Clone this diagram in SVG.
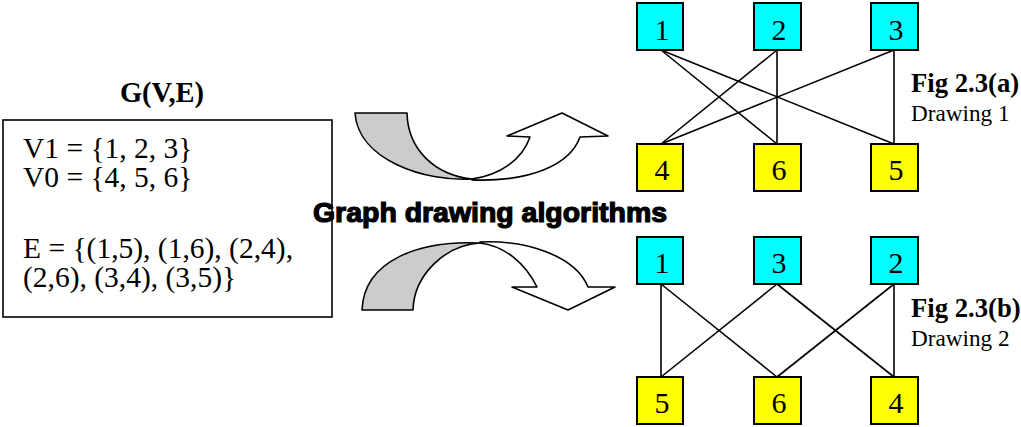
<svg xmlns="http://www.w3.org/2000/svg" width="1021" height="427" viewBox="0 0 1021 427">
<style>
.serif{font-family:"Liberation Serif","Times New Roman",serif;fill:#000}
.lbl{font-size:30px;text-anchor:middle}
.v1 rect{fill:#00FFFF;stroke:#000;stroke-width:2}
.v0 rect{fill:#FFFF00;stroke:#000;stroke-width:2}
.edge{stroke:#000;stroke-width:1.6;fill:none}
.arr{stroke:#000;stroke-width:1.6;stroke-linejoin:round}
</style>
<rect width="1021" height="427" fill="#fff"/>

<g id="graph-def">
<text class="serif" x="162" y="102" font-size="28.5" font-weight="bold" text-anchor="middle">G(V,E)</text>
<rect x="3" y="120" width="329" height="197" fill="#fff" stroke="#000" stroke-width="1.6"/>
<text class="serif" x="23" y="158" font-size="29.5">V1 = {1, 2, 3}</text>
<text class="serif" x="23" y="187" font-size="29.5">V0 = {4, 5, 6}</text>
<text class="serif" x="23" y="258" font-size="29.5">E = {(1,5), (1,6), (2,4),</text>
<text class="serif" x="23" y="287" font-size="29.5">(2,6), (3,4), (3,5)}</text>
</g>

<g id="arrow-top">
<path class="arr" fill="#CCCCCC" d="M355,113 L407,113 C408,150 435,175 472,179 C425,182 358,160 355,113 Z"/>
<path class="arr" fill="#fff" d="M472,180 C530,182 570,165 580,137 L608,136 L562,113 L507,136 L530,137 C522,160 500,175 472,179 Z"/>
</g>
<g id="arrow-bottom">
<path class="arr" fill="#CCCCCC" d="M362,310 L413,310 C414,275 445,245 480,243 C420,240 364,260 362,310 Z"/>
<path class="arr" fill="#fff" d="M480,242 C525,240 575,255 588,287 L615,287 L568,310 L512,287 L537,287 C525,263 505,246 480,243 Z"/>
</g>

<g id="algo-label">
<text x="313" y="222" font-family="'Liberation Sans',Arial,sans-serif" font-size="27" font-weight="bold" stroke="#000" stroke-width="1.2" textLength="354" lengthAdjust="spacingAndGlyphs">Graph drawing algorithms</text>
</g>

<g id="connectors">
<line class="edge" x1="661" y1="50" x2="777" y2="144"/>
<line class="edge" x1="661" y1="50" x2="894" y2="144"/>
<line class="edge" x1="777" y1="50" x2="661" y2="144"/>
<line class="edge" x1="777" y1="50" x2="777" y2="144"/>
<line class="edge" x1="894" y1="50" x2="661" y2="144"/>
<line class="edge" x1="894" y1="50" x2="894" y2="144"/>

<line class="edge" x1="661" y1="284" x2="661" y2="377"/>
<line class="edge" x1="661" y1="284" x2="777" y2="377"/>
<line class="edge" x1="777" y1="284" x2="661" y2="377"/>
<line class="edge" x1="777" y1="284" x2="894" y2="377"/>
<line class="edge" x1="894" y1="284" x2="777" y2="377"/>
<line class="edge" x1="894" y1="284" x2="894" y2="377"/>
</g>

<g id="a-node1" class="v1"><rect x="637" y="3" width="46" height="47"/><text class="serif lbl" x="662" y="40">1</text></g>
<g id="a-node2" class="v1"><rect x="754" y="3" width="47" height="47"/><text class="serif lbl" x="779" y="40">2</text></g>
<g id="a-node3" class="v1"><rect x="871" y="3" width="47" height="47"/><text class="serif lbl" x="896" y="40">3</text></g>
<g id="a-node4" class="v0"><rect x="637" y="144" width="46" height="47"/><text class="serif lbl" x="662" y="180">4</text></g>
<g id="a-node6" class="v0"><rect x="754" y="144" width="47" height="47"/><text class="serif lbl" x="779" y="180">6</text></g>
<g id="a-node5" class="v0"><rect x="871" y="144" width="47" height="47"/><text class="serif lbl" x="896" y="180">5</text></g>

<g id="b-node1" class="v1"><rect x="637" y="237" width="46" height="47"/><text class="serif lbl" x="662" y="273">1</text></g>
<g id="b-node3" class="v1"><rect x="754" y="237" width="47" height="47"/><text class="serif lbl" x="779" y="273">3</text></g>
<g id="b-node2" class="v1"><rect x="871" y="237" width="47" height="47"/><text class="serif lbl" x="896" y="273">2</text></g>
<g id="b-node5" class="v0"><rect x="637" y="377" width="46" height="47"/><text class="serif lbl" x="662" y="413">5</text></g>
<g id="b-node6" class="v0"><rect x="754" y="377" width="47" height="47"/><text class="serif lbl" x="779" y="413">6</text></g>
<g id="b-node4" class="v0"><rect x="871" y="377" width="47" height="47"/><text class="serif lbl" x="896" y="413">4</text></g>

<g id="caption-a">
<text class="serif" x="911" y="92" font-size="26.7" font-weight="bold">Fig 2.3(a)</text>
<text class="serif" x="911" y="121" font-size="23.2">Drawing 1</text>
</g>
<g id="caption-b">
<text class="serif" x="911" y="317" font-size="26.7" font-weight="bold">Fig 2.3(b)</text>
<text class="serif" x="911" y="346" font-size="23.2">Drawing 2</text>
</g>
</svg>
